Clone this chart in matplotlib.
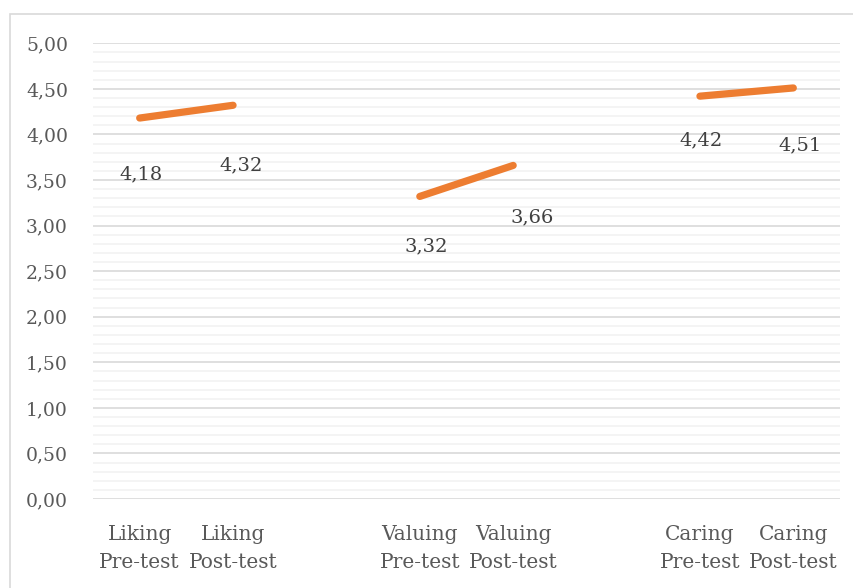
import matplotlib.pyplot as plt
import matplotlib.patches as mpatches
import numpy as np

# categorias (slots vazios separam os grupos)
categorias = ['Liking\nPre-test', 'Liking\nPost-test', '',
              'Valuing\nPre-test', 'Valuing\nPost-test', '',
              'Caring\nPre-test', 'Caring\nPost-test']
medias = [4.18, 4.32, np.nan, 3.32, 3.66, np.nan, 4.42, 4.51]
# deslocamento dos rótulos (pixels)
rot_dx = [1, 8, 0, 6, 19, 0, 1, 7]
rot_dy = [-56, -60, 0, -50, -52, 0, -44, -57]

cor_texto = '#595959'
fonte = 'DejaVu Serif'

fig = plt.figure(figsize=(8.54, 5.88), dpi=100)
fig.patches.append(mpatches.Rectangle((10/854, -0.1), 1.2, 1 - 14/588 + 0.1,
                                      transform=fig.transFigure, fill=False,
                                      edgecolor='#D9D9D9', linewidth=1.2))
ax = fig.add_axes([93/854, 1 - 499/588, 747/854, (499 - 43.3)/588])

x = np.arange(len(categorias))
ax.plot(x, medias, color='#ED7D31', linewidth=5.2, solid_capstyle='round', zorder=3)

for xi, v, dx, dy in zip(x, medias, rot_dx, rot_dy):
    if np.isnan(v):
        continue
    ax.annotate(f'{v:.2f}'.replace('.', ','), (xi, v), xytext=(dx, dy),
                textcoords='offset pixels', ha='center', va='center',
                fontsize=14, family=fonte, color='#404040')

ax.set_xlim(-0.5, len(categorias) - 0.5)
ax.set_ylim(0, 5)
ax.set_yticks(np.arange(0, 5.01, 0.5))
ax.set_yticklabels([f'{t:.2f}'.replace('.', ',') for t in np.arange(0, 5.01, 0.5)])
ax.set_yticks(np.arange(0, 5.01, 0.1), minor=True)
ax.set_xticks(x)
ax.set_xticklabels(categorias, linespacing=1.6)

ax.grid(True, which='major', axis='y', color='#D9D9D9', linewidth=1.2)
ax.grid(True, which='minor', axis='y', color='#F2F2F2', linewidth=1.2)
ax.set_axisbelow(True)
for s in ax.spines.values():
    s.set_visible(False)
ax.tick_params(which='both', length=0)
ax.tick_params(axis='y', pad=18)
ax.tick_params(axis='x', pad=19)
for lab in ax.get_yticklabels():
    lab.set_family(fonte)
    lab.set_fontsize(13.5)
    lab.set_color(cor_texto)
for lab in ax.get_xticklabels():
    lab.set_family(fonte)
    lab.set_fontsize(14.5)
    lab.set_color(cor_texto)

fig.savefig('out.png', dpi=100)
